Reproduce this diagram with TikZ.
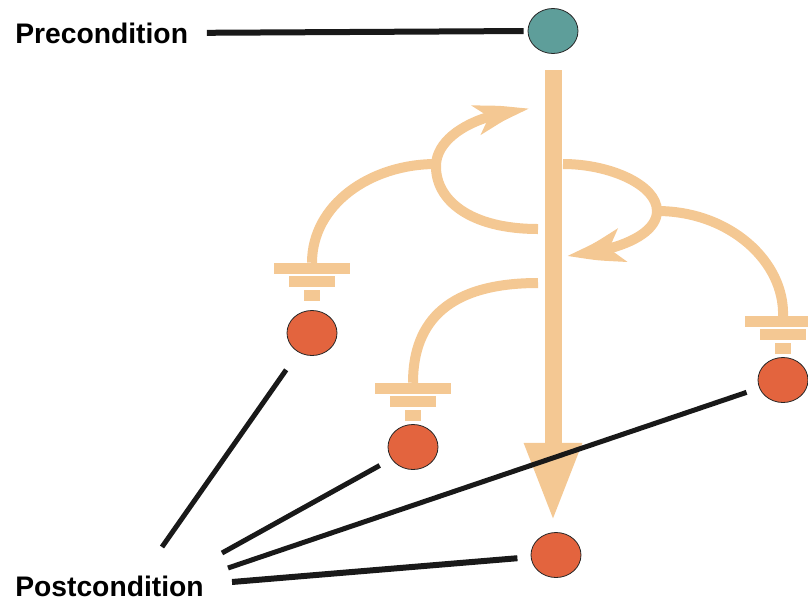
\documentclass[tikz,border=0pt]{standalone}
\usepackage{fontspec}
\setmainfont{Liberation Sans}
\usepackage{tikz}
\usetikzlibrary{positioning,arrows.meta,bending,shapes.geometric}

\definecolor{cpre}{HTML}{5E9E9A}
\definecolor{cpost}{HTML}{E3643E}
\definecolor{cflow}{HTML}{F4C893}

\tikzset{
	cond/.style = {ellipse, draw=black!85, line width=0.6pt, minimum width=37.5pt, minimum height=33.75pt, inner sep=0pt},
	pre/.style = {cond, fill=cpre},
	post/.style = {cond, fill=cpost},
	flow/.style = {draw=cflow, line width=7.5pt},
	link/.style = {draw=black!90, line width=3.75pt, shorten >=10pt},
	lbl/.style = {font=\bfseries\fontsize{21.2}{24}\selectfont, inner sep=0pt},
	gnd/.pic = {
		\fill[cflow] (-38,0) rectangle (38,11);
		\fill[cflow] (-23,13) rectangle (23,24);
		\fill[cflow] (-8,27) rectangle (8,38);
	}
}

\begin{document}
\begin{tikzpicture}[x=0.75pt, y=-0.75pt]
	\useasboundingbox (0,0) rectangle (808,601);

	\node[lbl, anchor=base west] (prelbl) at (15,43) {Precondition};
	\node[lbl, anchor=base west] (postlbl) at (15,596) {Postcondition};

	\node[pre] (pre) at (553,31) {};
	\node[post] (p1) at (312,333) {};
	\node[post] (p2) at (413,447) {};
	\node[post] (p3) at (783,380) {};
	\node[post] (p4) at (556,555) {};

	\coordinate[above = 35.5pt of p1] (g1);
	\coordinate[above = 31pt of p2] (g2);
	\coordinate[above = 30.5pt of p3] (g3);
	\pic at (g1) {gnd};
	\pic at (g2) {gnd};
	\pic at (g3) {gnd};

	% main flow
	\draw[flow, line width=12.75pt, -{Triangle[length=59pt,width=40pt]}]
		([yshift=-12.4pt]pre.south) -- ([yshift=8pt]pre.south |- p4.north);

	% alternative flows
	\draw[flow] (g1) .. controls +(0,-58) and (370,164) .. (436,164);
	\draw[flow, -{Stealth[length=42pt,width=22pt,inset=10pt,bend]}]
		(538,229) .. controls (470,229) and (435,200) .. (436,165)
		.. controls (437,135) and (480,112) .. (530,110);
	\draw[flow, -{Stealth[length=42pt,width=25pt,inset=10pt,bend]}]
		(563,164) .. controls (610,164) and (657,185) .. (657,211)
		.. controls (657,237) and (610,253) .. (567,255);
	\draw[flow] (657,211) .. controls (730,211) and (785,262) .. (g3);
	\draw[flow] (538,283) .. controls (450,283) and (413,320) .. (g2);

	\coordinate (q1) at (162,547);
	\coordinate (q2) at (222,553);
	\coordinate (q3) at (228,568);
	\coordinate (q4) at (232,582);

	\draw[link, line width=4.5pt, shorten <=14pt, shorten >=3pt] (prelbl.east) -- (pre.west);
	\draw[link, shorten >=16pt] (q1) -- (p1);
	\draw[link] (q2) -- (p2);
	\draw[link] (q3) -- (p3);
	\draw[link, line width=4.5pt] (q4) -- (p4);
\end{tikzpicture}
\end{document}
